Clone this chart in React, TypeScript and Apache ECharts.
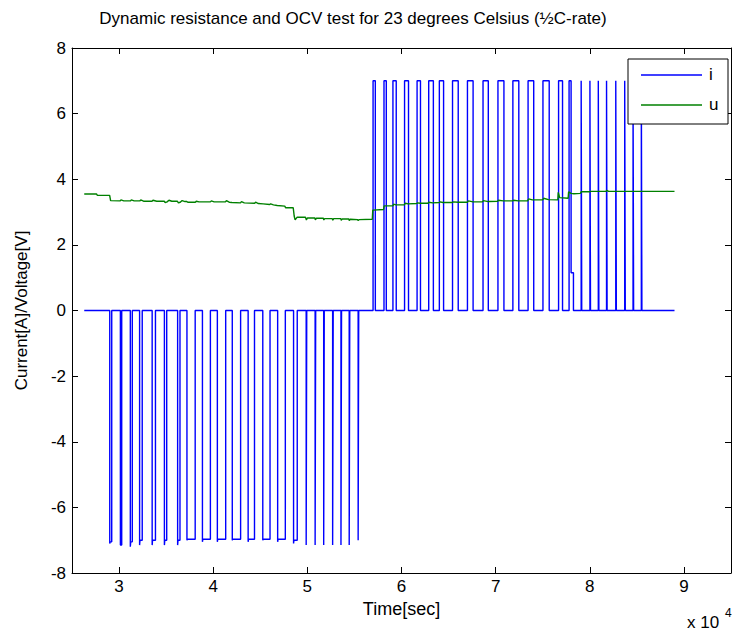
import React, { useEffect, useRef } from "react";
import * as echarts from "echarts";

// ---------- texts ----------
const chartTitle = "Dynamic resistance and OCV test for 23 degrees Celsius (½C-rate)";
const xAxisName = "Time[sec]";
const yAxisName = "Current[A]/Voltage[V]";
const seriesNames = ["i", "u"];
const xScaleNote = "x 10";
const xScaleExp = "4";

// ---------- axis ranges ----------
const xRange = [25000, 95000];
const yRange = [-8, 8];
const yStep = 2;
const xLabelDivisor = 10000;

// ---------- current (i) : rest level 0, pulses ----------
const iStartTime = 26300;
const iEndTime = 89000;
// discharge pulses (negative current)
const negStart = [29010, 30140, 31195, 32180, 33515, 34815, 36220, 37210, 38855, 40440, 42025, 43710, 45265, 46845, 48535, 49875, 50825, 51735, 52685, 53570, 54445, 55395];
const negEnd = [29220, 30280, 31405, 32460, 33865, 35060, 36470, 38085, 39700, 41325, 42910, 44385, 46035, 47660, 48925, 49935, 50885, 51795, 52745, 53630, 54505, 55455];
const negPeak = [-7.1, -7.15, -7.2, -7.15, -7.15, -7.15, -7.15, -7.0, -7.05, -7.05, -7.0, -7.05, -7.0, -7.05, -7.1, -7.15, -7.15, -7.15, -7.15, -7.15, -7.15, -7.0];
const negLevel = [-7.05, -7.15, -7.05, -7.0, -7.0, -7.0, -7.0, -6.97, -6.97, -6.97, -6.97, -6.97, -6.97, -6.97, -7.0, -7.15, -7.15, -7.15, -7.15, -7.15, -7.15, -7.0];
// charge pulses (positive current)
const posStart = [56980, 58140, 59090, 60325, 61655, 62890, 64020, 65420, 67005, 68660, 70245, 71830, 73445, 75025, 76685, 77800, 79085, 80015, 80905, 81780, 82760, 83710, 84595, 85475];
const posEnd = [57220, 58385, 59440, 60745, 62015, 63385, 64470, 66025, 67605, 69220, 70880, 72460, 74045, 75690, 77105, 78015, 79145, 80075, 80965, 81840, 82820, 83770, 84655, 85535];
const posLevel = [7.0, 7.0, 7.0, 7.0, 7.0, 7.0, 7.0, 7.0, 7.0, 7.0, 7.0, 7.0, 7.0, 7.0, 7.0, 7.0, 7.0, 7.0, 7.0, 7.0, 7.0, 7.0, 7.0, 7.0];
// one pulse falls to an intermediate level before returning to rest
const tailStart = [78015];
const tailEnd = [78265];
const tailLevel = [1.15];

// ---------- voltage (u) ----------
const uTime = [
  26300, 27600, 27700, 29000, 29100, 30100, 30200, 30500, 31200, 31300, 31600, 32200, 32300, 32600,
  33500, 33600, 34000, 34800, 34900, 35100, 35300, 35600, 36200, 36300, 36500, 36700, 37000, 37200,
  37300, 38100, 38200, 38500, 39700, 39800, 40100, 41300, 41400, 41700, 42000, 42900, 43000, 43300,
  44400, 44500, 44800, 45300, 46000, 46100, 46400, 46800, 47600, 47700, 48500, 48600, 48700, 48900,
  49800, 49900, 50000, 50800, 50850, 50950, 51700, 51750, 51850, 52650, 52700, 52800, 53550, 53600,
  53700, 54400, 54450, 54550, 55350, 55400, 55500, 56900, 56950, 58100, 58150, 59100, 59150, 59400,
  60300, 60400, 60700, 61600, 61700, 62000, 62800, 62900, 63300, 64000, 64100, 64400, 65400, 65500,
  66000, 67000, 67100, 67600, 68600, 68700, 69200, 70200, 70300, 70800, 71800, 71900, 72400, 73400,
  73500, 73900, 75000, 75100, 75600, 76600, 76650, 76800, 77700, 77750, 78000, 78300, 79000, 79100,
  80000, 80100, 81700, 81800, 82000, 89000,
];
const uVolt = [
  3.55, 3.55, 3.51, 3.51, 3.35, 3.34, 3.37, 3.34, 3.34, 3.37, 3.34, 3.34, 3.37, 3.33,
  3.33, 3.36, 3.33, 3.33, 3.29, 3.31, 3.36, 3.33, 3.33, 3.28, 3.30, 3.35, 3.32, 3.32,
  3.30, 3.30, 3.33, 3.31, 3.31, 3.34, 3.31, 3.31, 3.35, 3.30, 3.29, 3.28, 3.32, 3.28,
  3.27, 3.30, 3.26, 3.25, 3.23, 3.25, 3.22, 3.20, 3.18, 3.13, 3.13, 2.88, 2.76, 2.84,
  2.84, 2.76, 2.82, 2.82, 2.76, 2.81, 2.81, 2.76, 2.80, 2.80, 2.75, 2.80, 2.80, 2.75,
  2.79, 2.79, 2.74, 2.78, 2.77, 2.74, 2.77, 2.78, 3.06, 3.08, 3.19, 3.19, 3.24, 3.22,
  3.22, 3.27, 3.25, 3.26, 3.28, 3.27, 3.27, 3.30, 3.28, 3.29, 3.31, 3.29, 3.29, 3.31,
  3.30, 3.30, 3.34, 3.31, 3.31, 3.35, 3.32, 3.33, 3.36, 3.34, 3.34, 3.36, 3.34, 3.34,
  3.40, 3.37, 3.37, 3.42, 3.38, 3.37, 3.60, 3.44, 3.42, 3.62, 3.57, 3.56, 3.57, 3.62,
  3.62, 3.63, 3.63, 3.66, 3.63, 3.63,
];

// ---------- style ----------
const FONT = "'Liberation Sans', Arial, Helvetica, sans-serif";
const BLUE = "#0000ff";
const GREEN = "#008000";

type Pulse = { s: number; e: number; peak: number; level: number };

function buildCurrent(): number[][] {
  const pulses: Pulse[] = [];
  negStart.forEach((s, k) => pulses.push({ s, e: negEnd[k], peak: negPeak[k], level: negLevel[k] }));
  posStart.forEach((s, k) => pulses.push({ s, e: posEnd[k], peak: posLevel[k], level: posLevel[k] }));
  pulses.sort((a, b) => a.s - b.s);
  const pts: number[][] = [[iStartTime, 0]];
  for (const p of pulses) {
    pts.push([p.s, 0]);
    pts.push([p.s, p.peak]);
    if (p.e - p.s > 80) pts.push([p.s + 40, p.level]);
    pts.push([p.e, p.level]);
    const t = tailStart.indexOf(p.e);
    if (t >= 0) {
      pts.push([p.e, tailLevel[t]]);
      pts.push([tailEnd[t], tailLevel[t]]);
      pts.push([tailEnd[t], 0]);
    } else {
      pts.push([p.e, 0]);
    }
  }
  pts.push([iEndTime, 0]);
  return pts;
}

export default function App() {
  const ref = useRef<HTMLDivElement>(null);
  useEffect(() => {
    if (!ref.current) return;
    const chart = echarts.init(ref.current, undefined, { renderer: "svg" });
    const current = buildCurrent();
    const voltage = uTime.map((t, k) => [t, uVolt[k]]);
    const axisLine = { show: true, onZero: false, lineStyle: { color: "#000", width: 1 } };
    const tick = { show: true, inside: true, length: 6, lineStyle: { color: "#000", width: 1 } };
    const labelStyle = { color: "#000", fontSize: 17, fontFamily: FONT };
    const option: any = {
      animation: false,
      backgroundColor: "#ffffff",
      grid: { left: 72, top: 48, width: 665, height: 525, containLabel: false },
      xAxis: [
        {
          type: "value",
          min: xRange[0],
          max: xRange[1],
          splitNumber: 7,
          position: "bottom",
          axisLine,
          axisTick: tick,
          splitLine: { show: false },
          axisLabel: {
            ...labelStyle,
            margin: 5,
            formatter: (v: number) => (v % xLabelDivisor === 0 ? String(v / xLabelDivisor) : ""),
          },
          name: xAxisName,
          nameLocation: "middle",
          nameGap: 21,
          nameTextStyle: { color: "#000", fontSize: 18, fontFamily: FONT },
        },
        {
          type: "value",
          min: xRange[0],
          max: xRange[1],
          splitNumber: 7,
          position: "top",
          axisLine,
          axisTick: tick,
          splitLine: { show: false },
          axisLabel: { show: false },
        },
      ],
      yAxis: [
        {
          type: "value",
          min: yRange[0],
          max: yRange[1],
          interval: yStep,
          position: "left",
          axisLine,
          axisTick: tick,
          splitLine: { show: false },
          axisLabel: { ...labelStyle, margin: 6 },
          name: yAxisName,
          nameLocation: "middle",
          nameGap: 42,
          nameTextStyle: { color: "#000", fontSize: 17, fontFamily: FONT },
        },
        {
          type: "value",
          min: yRange[0],
          max: yRange[1],
          interval: yStep,
          position: "right",
          axisLine,
          axisTick: tick,
          splitLine: { show: false },
          axisLabel: { show: false },
        },
      ],
      series: [
        {
          name: seriesNames[0],
          type: "line",
          data: current,
          symbol: "none",
          lineStyle: { color: BLUE, width: 1.4 },
          itemStyle: { color: BLUE },
          xAxisIndex: 0,
          yAxisIndex: 0,
          z: 2,
        },
        {
          name: seriesNames[1],
          type: "line",
          data: voltage,
          symbol: "none",
          lineStyle: { color: GREEN, width: 1.4 },
          itemStyle: { color: GREEN },
          xAxisIndex: 0,
          yAxisIndex: 0,
          z: 3,
        },
      ],
      graphic: [
        {
          type: "text",
          x: 353,
          y: 18,
          style: { text: chartTitle, fill: "#000", fontSize: 17, fontFamily: FONT, align: "center", verticalAlign: "middle" },
        },
        {
          type: "text",
          x: 687,
          y: 622,
          style: { text: xScaleNote, fill: "#000", fontSize: 17, fontFamily: FONT, align: "left", verticalAlign: "middle" },
        },
        {
          type: "text",
          x: 725,
          y: 613,
          style: { text: xScaleExp, fill: "#000", fontSize: 12, fontFamily: FONT, align: "left", verticalAlign: "middle" },
        },
        {
          type: "group",
          z: 100,
          children: [
            { type: "rect", shape: { x: 628, y: 59, width: 100, height: 65 }, style: { fill: "#fff", stroke: "#000", lineWidth: 1 }, z: 100 },
            { type: "line", shape: { x1: 641, y1: 75, x2: 702, y2: 75 }, style: { stroke: BLUE, lineWidth: 1.4 }, z: 101 },
            { type: "text", x: 709, y: 74, style: { text: seriesNames[0], fill: "#000", fontSize: 17, fontFamily: FONT, verticalAlign: "middle" }, z: 101 },
            { type: "line", shape: { x1: 641, y1: 105, x2: 702, y2: 105 }, style: { stroke: GREEN, lineWidth: 1.4 }, z: 101 },
            { type: "text", x: 709, y: 104, style: { text: seriesNames[1], fill: "#000", fontSize: 17, fontFamily: FONT, verticalAlign: "middle" }, z: 101 },
          ],
        },
      ],
    };
    chart.setOption(option);
    return () => chart.dispose();
  }, []);
  return <div ref={ref} style={{ position: "absolute", left: 0, top: 0, width: 734, height: 631 }} />;
}
